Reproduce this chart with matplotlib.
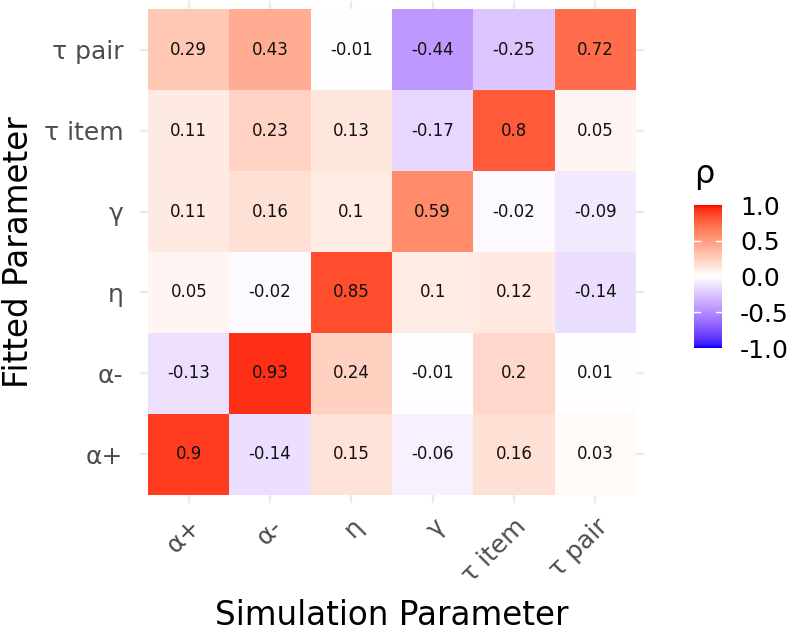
import numpy as np
import matplotlib
matplotlib.use("Agg")
import matplotlib.pyplot as plt
from matplotlib.colors import ListedColormap, Normalize, to_rgb


SIM_PARAMS = ["α+", "α-", "η", "γ", "τ item", "τ pair"]
FIT_PARAMS = ["α+", "α-", "η", "γ", "τ item", "τ pair"]

# rows follow FIT_PARAMS (bottom to top), columns follow SIM_PARAMS
RHO_APLUS = [0.9, -0.14, 0.15, -0.06, 0.16, 0.03]
RHO_AMINUS = [-0.13, 0.93, 0.24, -0.01, 0.2, 0.01]
RHO_ETA = [0.05, -0.02, 0.85, 0.1, 0.12, -0.14]
RHO_GAMMA = [0.11, 0.16, 0.1, 0.59, -0.02, -0.09]
RHO_TITEM = [0.11, 0.23, 0.13, -0.17, 0.8, 0.05]
RHO_TPAIR = [0.29, 0.43, -0.01, -0.44, -0.25, 0.72]

CBAR_TICKS = [-1.0, -0.5, 0.0, 0.5, 1.0]

W, H = 791, 632


def srgb_to_lab(c):
    c = np.asarray(c, dtype=float)
    lin = np.where(c <= 0.04045, c / 12.92, ((c + 0.055) / 1.055) ** 2.4)
    m = np.array([[0.4124, 0.3576, 0.1805], [0.2126, 0.7152, 0.0722], [0.0193, 0.1192, 0.9505]])
    xyz = m @ lin / np.array([0.95047, 1.0, 1.08883])
    d = 6 / 29
    f = np.where(xyz > d ** 3, np.cbrt(xyz), xyz / (3 * d * d) + 4 / 29)
    return np.array([116 * f[1] - 16, 500 * (f[0] - f[1]), 200 * (f[1] - f[2])])


def lab_to_srgb(lab):
    L, a, b = lab
    fy = (L + 16) / 116
    f = np.array([fy + a / 500, fy, fy - b / 200])
    d = 6 / 29
    xyz = np.where(f > d, f ** 3, 3 * d * d * (f - 4 / 29)) * np.array([0.95047, 1.0, 1.08883])
    minv = np.linalg.inv(np.array([[0.4124, 0.3576, 0.1805], [0.2126, 0.7152, 0.0722], [0.0193, 0.1192, 0.9505]]))
    lin = np.clip(minv @ xyz, 0, 1)
    c = np.where(lin <= 0.0031308, lin * 12.92, 1.055 * lin ** (1 / 2.4) - 0.055)
    return np.clip(c, 0, 1)


# diverging blue - white - red ramp interpolated in Lab like ggplot's gradient2
lab_lo, lab_mid, lab_hi = [srgb_to_lab(to_rgb(c)) for c in ("blue", "white", "red")]
colors = []
for t in np.linspace(-1, 1, 257):
    if t < 0:
        lab = lab_mid + (lab_lo - lab_mid) * (-t)
    else:
        lab = lab_mid + (lab_hi - lab_mid) * t
    colors.append(lab_to_srgb(lab))
cmap = ListedColormap(colors)
norm = Normalize(-1, 1)

rho = np.array([RHO_APLUS, RHO_AMINUS, RHO_ETA, RHO_GAMMA, RHO_TITEM, RHO_TPAIR])

fig = plt.figure(figsize=(W / 100, H / 100), dpi=100)
ax = fig.add_axes([140 / W, 1 - 503 / H, 504 / W, 502 / H])

n = len(SIM_PARAMS)
edges = np.arange(n + 1) + 0.5
mesh = ax.pcolormesh(edges, edges, rho, cmap=cmap, norm=norm, zorder=2)
for i in range(n):
    for j in range(n):
        ax.text(j + 1, i + 1, f"{rho[i, j]:g}", ha="center", va="center", fontsize=12, color="#111111", zorder=3)

ax.set_xlim(0.4, n + 0.6)
ax.set_ylim(0.4, n + 0.6)
ax.set_xticks(range(1, n + 1))
ax.set_xticklabels(SIM_PARAMS, rotation=45, ha="right", va="top", rotation_mode="anchor")
ax.set_yticks(range(1, n + 1))
ax.set_yticklabels(FIT_PARAMS)
ax.tick_params(axis="both", length=0, labelsize=18, labelcolor="#4D4D4D")
ax.tick_params(axis="y", pad=12)
ax.tick_params(axis="x", pad=8)
ax.grid(True, color="#EBEBEB", linewidth=1.6, zorder=0)
ax.set_axisbelow(True)
for s in ax.spines.values():
    s.set_visible(False)

fig.text(392 / W, 1 - 625 / H, "Simulation Parameter", ha="center", va="baseline", fontsize=23.5)
fig.text(28 / W, 1 - 252 / H, "Fitted Parameter", ha="center", va="baseline", rotation=90,
         rotation_mode="anchor", fontsize=23.5)

# colour bar legend, white ticks only at the inner breaks
cax = fig.add_axes([694 / W, 1 - 348 / H, 28 / W, 143 / H])
cb = fig.colorbar(mesh, cax=cax, ticks=CBAR_TICKS)
cb.outline.set_visible(False)
cb.ax.set_yticklabels([f"{t:.1f}" for t in CBAR_TICKS])
cax.tick_params(length=0, labelsize=18, pad=13)
for t in CBAR_TICKS[1:-1]:
    cax.plot([0, 0.2], [t, t], color="white", linewidth=1, transform=cax.get_yaxis_transform())
    cax.plot([0.8, 1], [t, t], color="white", linewidth=1, transform=cax.get_yaxis_transform())
fig.text(694 / W, 1 - 174 / H, "ρ", ha="left", va="center", fontsize=23)

plt.savefig("out.png", dpi=100)
